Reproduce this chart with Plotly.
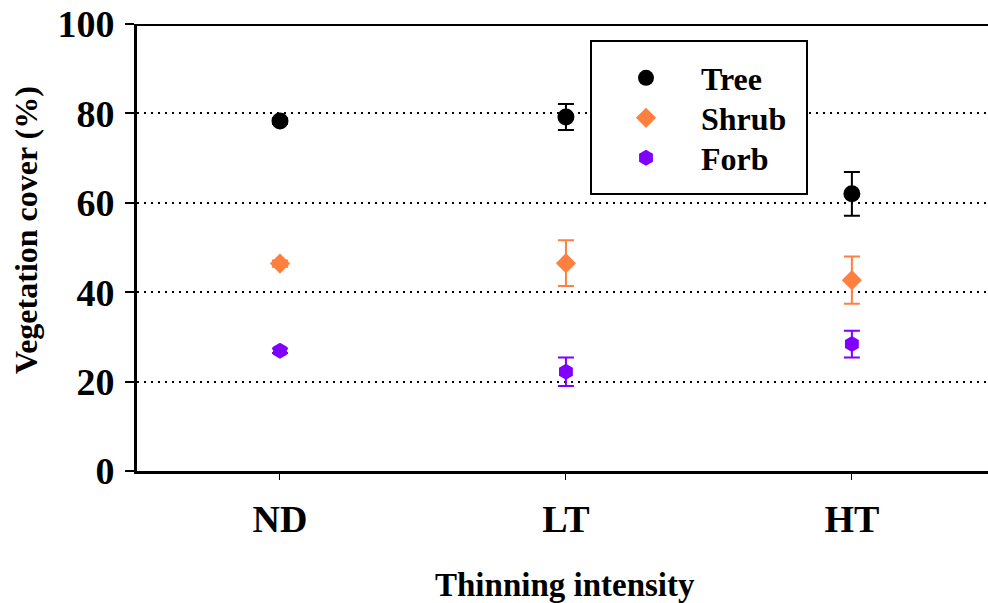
import plotly.graph_objects as go

categories = ["ND", "LT", "HT"]
tree = [78.3, 79.2, 62.0]
tree_err = [0.6, 2.9, 4.9]
shrub = [46.4, 46.5, 42.7]
shrub_err = [0.7, 5.1, 5.3]
forb = [26.9, 22.2, 28.4]
forb_err = [0.5, 3.2, 3.0]
y_ticks = [0, 20, 40, 60, 80, 100]

FONT = "Liberation Serif"
xpos = list(range(len(categories)))

W, H = 988, 603
L, T, B = 137, 24, 132
PW, PH = W - L, H - T - B


def px(xf):
    return (xf - L) / PW


def py(yf):
    return (H - B - yf) / PH


fig = go.Figure()
series = [
    ("Tree", tree, tree_err, "#000000", "circle", 17, "legend", 78),
    ("Shrub", shrub, shrub_err, "#FF7F3F", "diamond", 15.5, "legend2", 118),
    ("Forb", forb, forb_err, "#7F00FF", "hexagon", 16, "legend3", 158),
]
legends = {}
for name, vals, errs, col, sym, sz, lg, ly in series:
    fig.add_trace(go.Scatter(
        x=xpos, y=vals, name=name, mode="markers", legend=lg,
        marker=dict(color=col, symbol=sym, size=sz, line=dict(width=0)),
        error_y=dict(type="data", array=errs, visible=True, color=col, thickness=2, width=8),
    ))
    legends[lg] = dict(
        x=px(591), y=py(ly), xanchor="left", yanchor="middle",
        bgcolor="rgba(0,0,0,0)", borderwidth=0,
        font=dict(family=FONT, size=32, color="black", weight="bold"),
        itemwidth=100,
    )

fig.update_layout(
    width=W, height=H,
    margin=dict(l=L, r=0, t=T, b=B, autoexpand=False),
    paper_bgcolor="white", plot_bgcolor="white",
    font=dict(family=FONT, color="black"),
    showlegend=True,
    **legends,
)
fig.update_xaxes(
    range=[-0.5, 2.476], tickvals=xpos, ticktext=categories,
    showline=True, linecolor="black", linewidth=3,
    ticks="outside", ticklen=6, tickwidth=1, tickcolor="black",
    tickfont=dict(family=FONT, size=38, color="black", weight="bold"),
    showgrid=False, zeroline=False, ticklabelstandoff=6,
)
fig.update_yaxes(
    range=[0, 100], tickvals=y_ticks,
    showline=True, linecolor="black", linewidth=3,
    ticks="outside", ticklen=9, tickwidth=2, tickcolor="black",
    tickfont=dict(family=FONT, size=38, color="black", weight="bold"),
    showgrid=True, gridcolor="black", gridwidth=2, griddash="2px,5px",
    zeroline=False, ticklabelstandoff=3, ticklabeloverflow="allow",
)
fig.add_shape(type="line", xref="paper", yref="y", x0=0, x1=1, y0=100, y1=100,
              line=dict(color="black", width=4), layer="above")
fig.add_shape(type="rect", xref="paper", yref="paper",
              x0=px(591), x1=px(807), y0=py(194), y1=py(41),
              line=dict(color="black", width=2), fillcolor="white", layer="above")
fig.add_annotation(text="<b>Vegetation cover (%)</b>", xref="paper", yref="paper",
                   x=px(26), y=py(230), xanchor="center", yanchor="middle",
                   textangle=-90, showarrow=False,
                   font=dict(family=FONT, size=32, color="black"))
fig.add_annotation(text="<b>Thinning intensity</b>", xref="paper", yref="paper",
                   x=px(565), y=py(585), xanchor="center", yanchor="middle",
                   showarrow=False,
                   font=dict(family=FONT, size=33, color="black"))
fig.write_html("out.html", config={"displayModeBar": False},
               post_script="document.body.style.margin='0px';")
